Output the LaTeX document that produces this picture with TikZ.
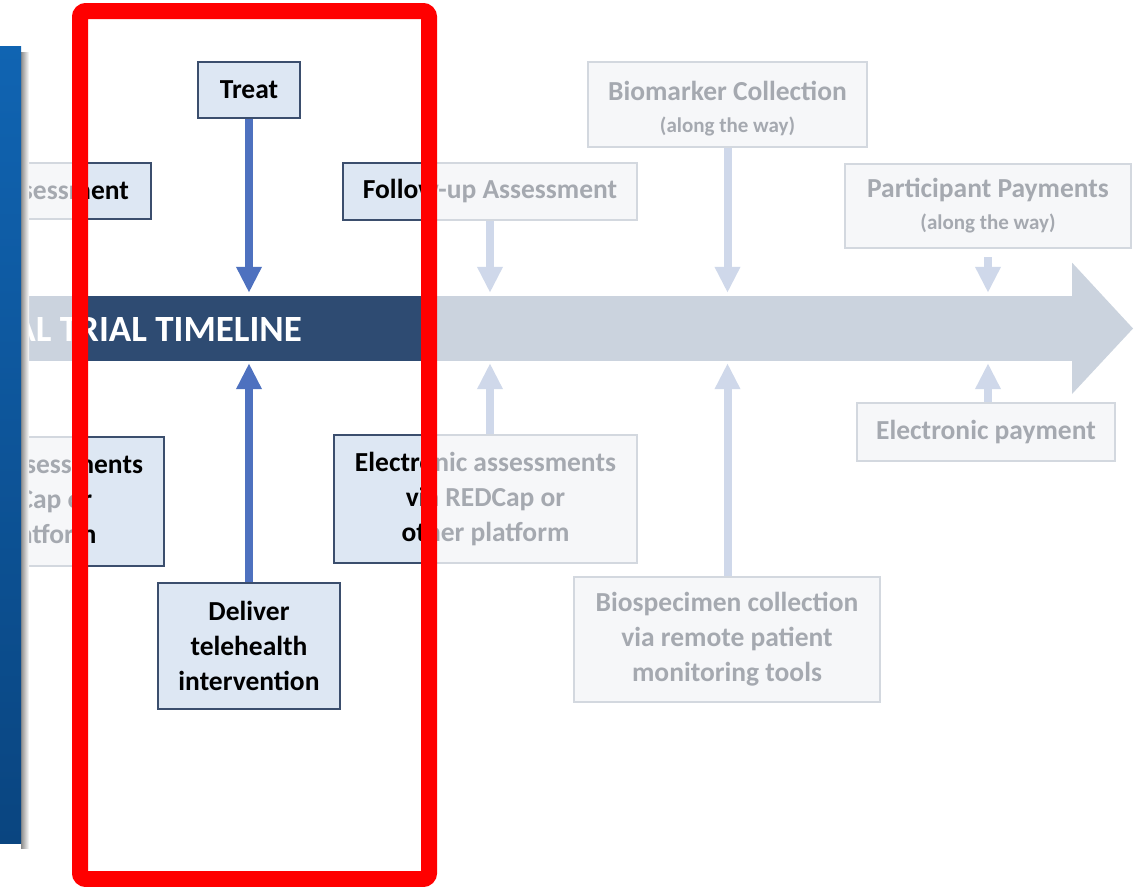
\documentclass[tikz,border=0pt]{standalone}
\usepackage{fontspec}
\setmainfont{Carlito}
\usetikzlibrary{arrows.meta}
\definecolor{fbord}{HTML}{D3D8DF}
\definecolor{ffill}{HTML}{F6F7F9}
\definecolor{ftext}{HTML}{A5A9B0}
\definecolor{farrow}{HTML}{CFD8EA}
\definecolor{fbar}{HTML}{CBD3DE}
\definecolor{dbord}{HTML}{3B4E6D}
\definecolor{dfill}{HTML}{DDE7F3}
\definecolor{darrow}{HTML}{4E71BF}
\definecolor{dbar}{HTML}{2E4B72}
\definecolor{framered}{HTML}{FF0000}
\definecolor{blueA}{HTML}{1064B2}
\definecolor{blueB}{HTML}{0A4580}
\tikzset{
  box/.style={rectangle, inner sep=0pt, font=\fontsize{27.5}{35}\selectfont\bfseries, align=center, line width=2.5pt},
  fadedbox/.style={box, draw=fbord, fill=ffill, text=ftext},
  darkbox/.style={box, draw=dbord, fill=dfill, text=black},
  farr/.style={draw=farrow, line width=8pt, -{Triangle[width=24pt,length=26pt]}},
  darr/.style={draw=darrow, line width=8pt, -{Triangle[width=24pt,length=26pt]}},
}
\newcommand\smallline[1]{{\fontsize{21}{24}\selectfont #1}}
% #1 name suffix, #2 box style, #3 bar colour
\newcommand\crossparts[3]{%
  \node[minimum width=1072pt, minimum height=65pt, inner sep=0pt, fill=#3] (tl#1) at (536,328.5) {};
  \fill[#3] (tl#1.north east) -- ++(0,-33) -- (1133,328.5) -- (1072,394) -- (tl#1.south east) -- cycle;
  \node[anchor=base east, inner sep=0pt, text=white, font=\fontsize{37}{40}\selectfont\bfseries] (tt#1) at (302,341) {AL TRIAL TIMELINE};
  \node[#2, minimum width=151pt, minimum height=56pt] (la#1) at (75.5,191) {sessment};
  \node[#2, minimum width=303pt, minimum height=129pt] (lb#1) at (12.5,501.5) {Electronic assessments\\via REDCap or\\other platform};
  \node[#2, minimum width=294pt, minimum height=57pt] (fu#1) at (490,191.5) {Follow-up Assessment};
  \node[#2, minimum width=303pt, minimum height=128pt] (ea#1) at (485.5,499) {Electronic assessments\\via REDCap or\\other platform};
}
\begin{document}
\begin{tikzpicture}[x=1pt, y=-1pt]
\useasboundingbox (0,0) rectangle (1140,886);
\clip (0,0) rectangle (1140,886);
\fill[white] (0,0) rectangle (1140,886);
% ---------- faded layer ----------
\crossparts{}{fadedbox}{fbar}
\node[fadedbox, minimum width=279pt, minimum height=85pt] (bio) at (727.5,104.5) {\rule{0pt}{27pt}Biomarker Collection\\[-3pt]\smallline{(along the way)}};
\node[fadedbox, minimum width=286pt, minimum height=84pt] (pp) at (988,206) {Participant Payments\\[-3pt]\smallline{(along the way)}};
\node[fadedbox, minimum width=258pt, minimum height=58pt] (ep) at (986,432) {Electronic payment};
\node[fadedbox, minimum width=306pt, minimum height=125pt] (bs) at (727,639.5) {Biospecimen collection\\via remote patient\\monitoring tools};
\draw[farr, shorten >=3pt] (fu.south) -- (fu.south |- tl.north);
\draw[farr, shorten >=2pt] (ea.north -| fu.south) -- (fu.south |- tl.south);
\draw[farr, shorten >=3pt] (bio.south) -- (bio.south |- tl.north);
\draw[farr, shorten >=2pt] (bs.north -| bio.south) -- (bio.south |- tl.south);
\draw[farr, shorten <=8pt, shorten >=3pt] (pp.south) -- (pp.south |- tl.north);
\draw[farr, shorten >=2pt] (ep.north -| pp.south) -- (pp.south |- tl.south);
% ---------- highlighted layer ----------
\begin{scope}
  \clip (80,11) rectangle (429,879);
  \crossparts{d}{darkbox}{dbar}
  \node[darkbox, minimum width=102pt, minimum height=56pt] (treat) at (249,90) {Treat};
  \node[darkbox, minimum width=182pt, minimum height=126pt] (deliver) at (249,646) {Deliver\\telehealth\\intervention};
  \draw[darr, shorten >=3pt] (treat.south) -- (treat.south |- tld.north);
  \draw[darr, shorten >=2pt] (deliver.north) -- (deliver.north |- tld.south);
\end{scope}
% ---------- left blue bar ----------
\shade[left color=black!45, right color=white] (21,52) rectangle (29,848);
\shade[top color=blueA, bottom color=blueB] (0,46) rectangle (21,843);
% ---------- red frame ----------
\draw[framered, line width=16pt, rounded corners=6pt] (80,11) rectangle (429,879);
\end{tikzpicture}
\end{document}
